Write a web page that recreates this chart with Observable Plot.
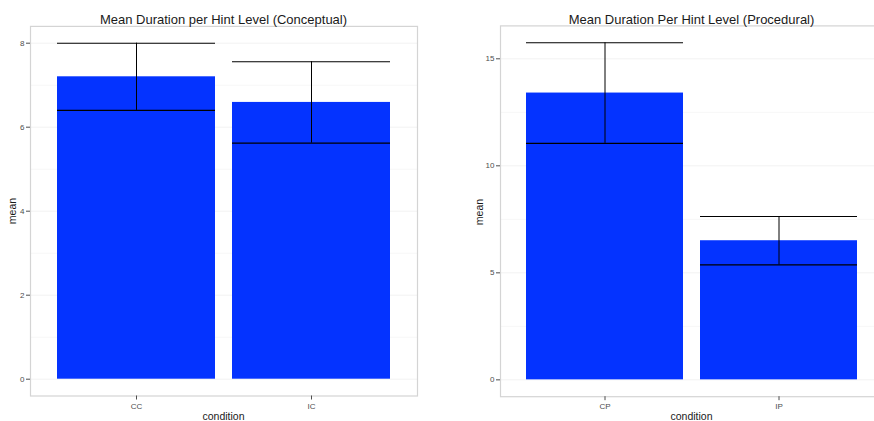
<!DOCTYPE html>
<html><head><meta charset="utf-8">
<script src="https://cdn.jsdelivr.net/npm/d3@7"></script>
<script src="https://cdn.jsdelivr.net/npm/@observablehq/plot@0.6"></script>
<style>
html,body{margin:0;padding:0;background:#fff;overflow:hidden;}
#wrap{position:relative;width:874px;height:421px;overflow:hidden;font-family:"Liberation Sans",Arial,Helvetica,sans-serif;}
.panel{position:absolute;top:0;}
.t{position:absolute;transform:translate(-50%,-50%);white-space:nowrap;color:#1a1a1a;}
.title{font-size:13px;}
.ax{font-size:10.5px;}
.rot{transform:translate(-50%,-50%) rotate(-90deg);}
svg text{font-family:"Liberation Sans",Arial,Helvetica,sans-serif;}
</style></head>
<body><div id="wrap"></div>
<script>
// Data
const conditionsConceptual = ["CC", "IC"];
const meansConceptual = [7.2, 6.59];
const seConceptual = [0.8, 0.97];
const yTicksConceptual = [0, 2, 4, 6, 8];
const yMinorConceptual = [1, 3, 5, 7];

const conditionsProcedural = ["CP", "IP"];
const meansProcedural = [13.4, 6.5];
const seProcedural = [2.35, 1.13];
const yTicksProcedural = [0, 5, 10, 15];
const yMinorProcedural = [2.5, 7.5, 12.5];

const titles = ["Mean Duration per Hint Level (Conceptual)", "Mean Duration Per Hint Level (Procedural)"];

function panel(conds, means, ses, ticks, minor, opts) {
  const data = conds.map((c, i) => ({condition: c, mean: means[i], lo: means[i] - ses[i], hi: means[i] + ses[i]}));
  const maxV = d3.max(data, d => d.hi);
  const pad = maxV * 0.05;
  return Plot.plot({
    width: opts.width, height: 421,
    marginLeft: opts.ml, marginRight: opts.mr, marginTop: opts.mt, marginBottom: opts.mb,
    style: {background: "transparent", overflow: "visible"},
    x: {domain: conds, paddingInner: 0.1, paddingOuter: 0.15, label: null, axis: null},
    y: {domain: [-pad, maxV + pad], label: null, axis: null},
    marks: [
      Plot.ruleY(minor, {stroke: "#f7f7f7", strokeWidth: 1}),
      Plot.ruleY(ticks, {stroke: "#f2f2f2", strokeWidth: 1}),
      Plot.barY(data, {x: "condition", y: "mean", fill: "#0433ff"}),
      Plot.tickY(data, {x: "condition", y: "hi", stroke: "#000", strokeWidth: 1.1}),
      Plot.tickY(data, {x: "condition", y: "lo", stroke: "#000", strokeWidth: 1.1}),
      Plot.ruleX(data, {x: "condition", y1: "lo", y2: "hi", stroke: "#000", strokeWidth: 1}),
      Plot.frame({stroke: "#d4d4d4", strokeWidth: 1.2}),
      Plot.axisY(ticks, {tickSize: 4, tickPadding: 2, fontSize: 8, color: "#4d4d4d", label: null}),
      Plot.axisX({tickSize: 4, tickPadding: 3, fontSize: 8, color: "#4d4d4d", label: null})
    ]
  });
}

const wrap = document.getElementById("wrap");
const p1 = panel(conditionsConceptual, meansConceptual, seConceptual, yTicksConceptual, yMinorConceptual,
  {width: 440, ml: 30, mr: 23, mt: 25.9, mb: 25.5});
p1.classList.add("panel"); p1.style.left = "0px";
wrap.appendChild(p1);
const p2 = panel(conditionsProcedural, meansProcedural, seProcedural, yTicksProcedural, yMinorProcedural,
  {width: 450, ml: 60, mr: 7, mt: 25.4, mb: 24.8});
p2.classList.add("panel"); p2.style.left = "440px";
wrap.appendChild(p2);

function label(text, x, y, cls) {
  const d = document.createElement("div");
  d.className = "t " + cls;
  d.style.left = x + "px"; d.style.top = y + "px";
  d.textContent = text;
  wrap.appendChild(d);
}
label(titles[0], 223.5, 18.5, "title");
label(titles[1], 691.5, 18.5, "title");
label("condition", 223.5, 415.5, "ax");
label("condition", 691.5, 416, "ax");
label("mean", 12, 211, "ax rot");
label("mean", 478.5, 211.5, "ax rot");
</script>
</body></html>
